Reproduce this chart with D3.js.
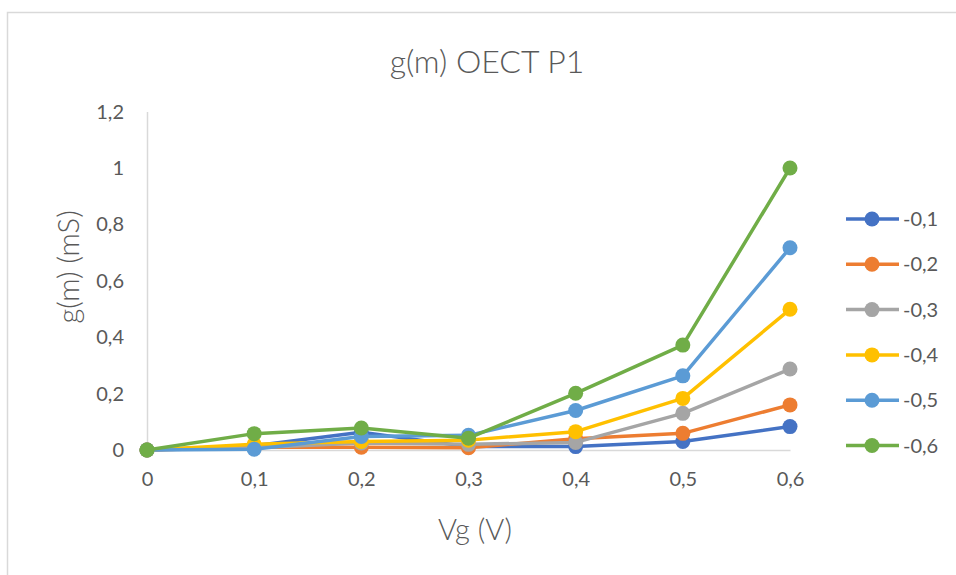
<!DOCTYPE html>
<html>
<head>
<meta charset="utf-8">
<script src="https://cdn.jsdelivr.net/npm/d3@7/dist/d3.min.js"></script>
<style>
  html, body { margin: 0; padding: 0; background: #fff; }
  svg text { font-family: Lato, "Liberation Sans", sans-serif; fill: #595959; }
</style>
</head>
<body>
<svg id="chart" width="956" height="575"></svg>
<script>
// Vg values (category axis)
const categories = ["0", "0,1", "0,2", "0,3", "0,4", "0,5", "0,6"];
const yTicks = [0, 0.2, 0.4, 0.6, 0.8, 1, 1.2];

// g(m) in mS, one series per drain voltage
const seriesNames = ["-0,1", "-0,2", "-0,3", "-0,4", "-0,5", "-0,6"];
const s01 = [0, 0.015, 0.063, 0.012, 0.012, 0.030, 0.083];
const s02 = [0, 0.010, 0.010, 0.008, 0.040, 0.059, 0.160];
const s03 = [0, 0.008, 0.025, 0.020, 0.027, 0.130, 0.287];
const s04 = [0, 0.020, 0.030, 0.035, 0.065, 0.183, 0.499];
const s05 = [0, 0.003, 0.048, 0.052, 0.140, 0.263, 0.717];
const s06 = [0, 0.058, 0.078, 0.042, 0.201, 0.372, 1.000];
const seriesValues = [s01, s02, s03, s04, s05, s06];
const colors = ["#4472C4", "#ED7D31", "#A5A5A5", "#FFC000", "#5B9BD5", "#70AD47"];

const svg = d3.select("#chart");

// chart frame
svg.append("rect")
  .attr("x", 7.5).attr("y", 12.5)
  .attr("width", 960).attr("height", 580)
  .attr("fill", "none")
  .attr("stroke", "#d9d9d9")
  .attr("stroke-width", 1.5);

const x = d3.scalePoint().domain(categories).range([147, 790]);
const y = d3.scaleLinear().domain([0, 1.2]).range([450, 111.6]);

// axes
const yAxis = svg.append("g")
  .attr("transform", "translate(147,0)")
  .call(d3.axisLeft(y).tickValues(yTicks).tickSize(0).tickPadding(23)
    .tickFormat(d => d3.format("~g")(d).replace(".", ",")));
yAxis.select(".domain").attr("stroke", "#d9d9d9").attr("stroke-width", 1.5);
yAxis.selectAll("text").attr("font-size", 20).attr("fill", "#595959")
  .style("font-family", "Lato, sans-serif");

const xAxis = svg.append("g")
  .attr("transform", "translate(0,450)")
  .call(d3.axisBottom(x).tickSize(0).tickPadding(22));
xAxis.select(".domain").attr("stroke", "#d9d9d9").attr("stroke-width", 1.5);
xAxis.selectAll("text").attr("font-size", 20).attr("fill", "#595959")
  .style("font-family", "Lato, sans-serif");

// titles
svg.append("text")
  .attr("x", 487).attr("y", 73)
  .attr("text-anchor", "middle")
  .attr("font-size", 32)
  .attr("font-weight", 300)
  .text("g(m) OECT P1");

svg.append("text")
  .attr("x", 475).attr("y", 540)
  .attr("text-anchor", "middle")
  .attr("font-size", 29)
  .attr("font-weight", 300)
  .text("Vg (V)");

svg.append("text")
  .attr("transform", "translate(79,267) rotate(-90)")
  .attr("text-anchor", "middle")
  .attr("font-size", 29)
  .attr("font-weight", 300)
  .text("g(m) (mS)");

// lines and markers
const line = d3.line()
  .x((d, i) => x(categories[i]))
  .y(d => y(d));

const plot = svg.append("g");
seriesValues.forEach((vals, si) => {
  const g = plot.append("g");
  g.append("path")
    .datum(vals)
    .attr("d", line)
    .attr("fill", "none")
    .attr("stroke", colors[si])
    .attr("stroke-width", 3.5)
    .attr("stroke-linejoin", "round");
  g.selectAll("circle")
    .data(vals)
    .join("circle")
    .attr("cx", (d, i) => x(categories[i]))
    .attr("cy", d => y(d))
    .attr("r", 7.5)
    .attr("fill", colors[si]);
});

// legend
const legend = svg.append("g");
seriesNames.forEach((name, i) => {
  const ly = 219 + i * 45.3;
  legend.append("line")
    .attr("x1", 846).attr("x2", 899)
    .attr("y1", ly).attr("y2", ly)
    .attr("stroke", colors[i])
    .attr("stroke-width", 3.5);
  legend.append("circle")
    .attr("cx", 872).attr("cy", ly).attr("r", 7.5)
    .attr("fill", colors[i]);
  legend.append("text")
    .attr("x", 903).attr("y", ly)
    .attr("dy", "0.35em")
    .attr("font-size", 20)
    .text(name);
});
</script>
</body>
</html>
